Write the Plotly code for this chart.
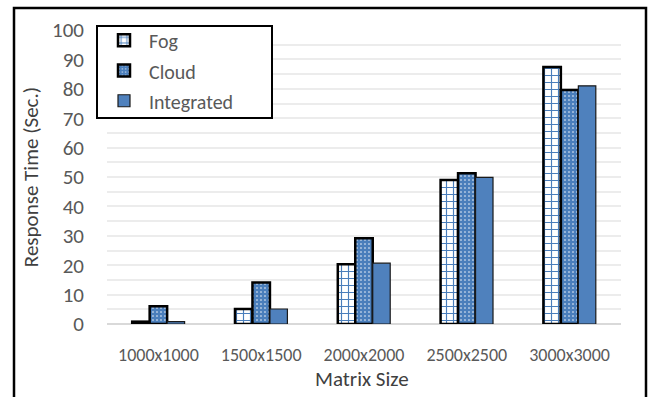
import plotly.graph_objects as go

categories = ["1000x1000", "1500x1500", "2000x2000", "2500x2500", "3000x3000"]
fog = [0.8, 5.1, 20.3, 49.0, 87.4]
cloud = [6.0, 14.1, 29.2, 51.3, 79.6]
integrated = [0.8, 5.1, 20.7, 49.9, 81.0]

FONT = "Carlito, 'Open Sans', sans-serif"
BLUE = "#4a7ebb"
GRAY = "#595959"

def lg(t):
    return "<span style='font-size:20px'>" + t + "</span>"

def px_x(v):
    return (v - 107) / 514

def px_y(v):
    return (324 - v) / 294

fig = go.Figure()
fig.add_trace(go.Bar(
    x=categories, y=fog, name=lg("Fog"),
    marker=dict(color="white", line=dict(color="black", width=2.5),
                pattern=dict(shape="+", fgcolor=BLUE, bgcolor="white", size=7, solidity=0.3, fillmode="replace")),
))
fig.add_trace(go.Bar(
    x=categories, y=cloud, name=lg("Cloud"),
    marker=dict(color=BLUE, line=dict(color="black", width=2.5),
                pattern=dict(shape=".", fgcolor="white", bgcolor=BLUE, size=4, solidity=0.12, fillmode="replace")),
))
fig.add_trace(go.Bar(
    x=categories, y=integrated, name=lg("Integrated"),
    marker=dict(color="#4f81bd", line=dict(color="#1a1a1a", width=1.2)),
))

fig.update_layout(
    width=650, height=397,
    margin=dict(l=107, r=29, t=30, b=73, autoexpand=False),
    paper_bgcolor="white", plot_bgcolor="white",
    font=dict(family=FONT, color=GRAY),
    barmode="group", bargap=0.49, bargroupgap=0,
    showlegend=True,
    legend=dict(
        x=px_x(99), y=px_y(20), xanchor="left", yanchor="top",
        bgcolor="rgba(0,0,0,0)", borderwidth=0,
        font=dict(size=21, color=GRAY, family=FONT),
        itemwidth=40,
    ),
    xaxis=dict(
        showgrid=False, showline=False, zeroline=False,
        tickfont=dict(size=18, color=GRAY, family=FONT),
        ticklabelstandoff=18,
    ),
    yaxis=dict(
        range=[0, 100], dtick=10, tick0=0,
        showgrid=True, gridcolor="#ececec", gridwidth=1.5,
        minor=dict(dtick=5, showgrid=True, gridcolor="#ececec", gridwidth=1.5),
        zeroline=True, zerolinecolor="#d9d9d9", zerolinewidth=2,
        showline=False,
        tickfont=dict(size=21, color=GRAY, family=FONT),
        ticklabelstandoff=22,
        title=dict(text="Response Time (Sec.)", font=dict(size=21, color="#404040", family=FONT), standoff=7),
    ),
    annotations=[dict(
        text="Matrix Size", xref="paper", yref="paper",
        x=px_x(362), y=px_y(379), xanchor="center", yanchor="middle",
        showarrow=False, font=dict(size=21, color="#404040", family=FONT),
    )],
    shapes=[
        dict(type="rect", xref="paper", yref="paper",
             x0=px_x(14), x1=px_x(646), y0=px_y(405), y1=px_y(8),
             line=dict(color="black", width=2.5), fillcolor="rgba(0,0,0,0)", layer="below"),
        dict(type="rect", xref="paper", yref="paper",
             x0=px_x(97), x1=px_x(272), y0=px_y(118), y1=px_y(26),
             line=dict(color="black", width=2), fillcolor="white", layer="above"),
    ],
)

fig.write_html("out.html", config={"displayModeBar": False},
               post_script="document.body.style.margin='0';document.body.style.overflow='hidden';")
